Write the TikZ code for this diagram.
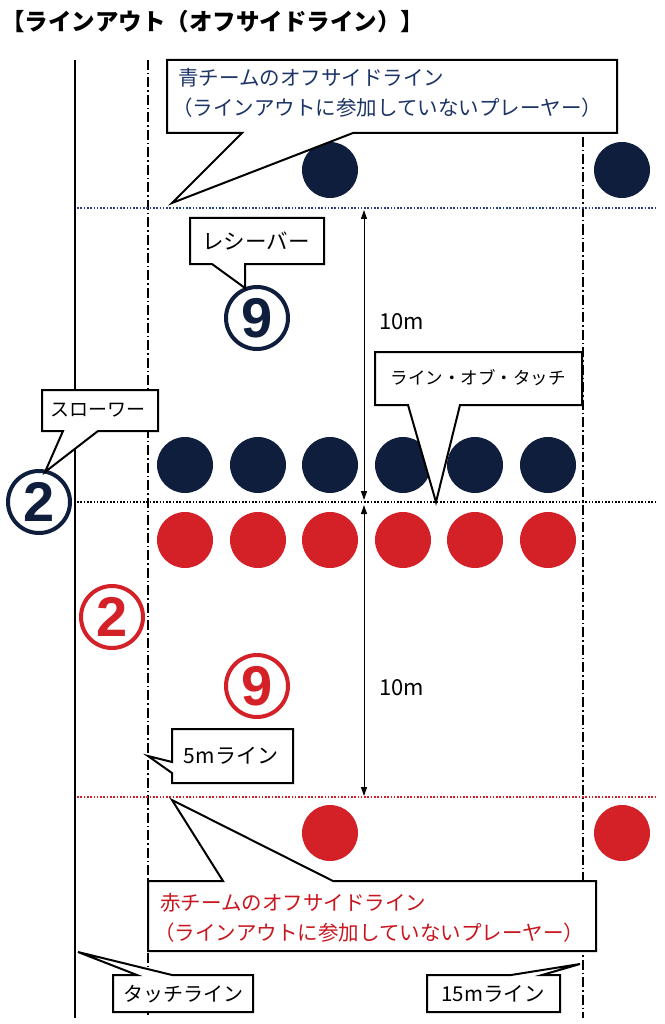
\documentclass[tikz,border=0pt]{standalone}
\usepackage{fontspec}
\setmainfont{Noto Sans CJK JP}
\newfontfamily\numfont{Liberation Sans}
\usetikzlibrary{arrows.meta}
\definecolor{navy}{HTML}{0F1E3C}
\definecolor{bluetxt}{HTML}{1D3466}
\definecolor{bluedotline}{HTML}{23407A}
\definecolor{redc}{HTML}{D42027}
\definecolor{redtxt}{HTML}{C8161E}
\begin{document}
\begin{tikzpicture}[x=1pt,y=-1pt,
  callout/.style={draw=black,line width=2pt,fill=white,line join=miter},
  bluedot/.style={fill=navy,circle,inner sep=0pt,minimum size=56pt},
  reddot/.style={fill=redc,circle,inner sep=0pt,minimum size=56pt},
  dashdot/.style={line width=1.2pt,dash pattern=on 10pt off 3pt on 1.5pt off 3pt},
  offline/.style={line width=1.7pt,dash pattern=on 1.6pt off 1.7pt},
  lbl/.style={font=\fontsize{20.5}{24}\selectfont,inner sep=0pt},
  slbl/.style={font=\fontsize{17.5}{21}\selectfont,inner sep=0pt},
  mlbl/.style={font=\fontsize{20.5}{24}\selectfont,inner sep=0pt},
  cnum/.style={circle,line width=4pt,minimum size=62pt,inner sep=0pt,font=\numfont\bfseries\fontsize{56}{56}\selectfont},
  meas/.style={line width=1pt,{Triangle[length=9pt,width=6pt]}-{Triangle[length=9pt,width=6pt]}}
]
\useasboundingbox (0,0) rectangle (664,1024);

% title
\node[anchor=west,font=\bfseries\fontsize{23.5}{27}\selectfont,inner sep=0pt] (title) at (1,22) {【ラインアウト（オフサイドライン）】};

% field lines
\draw[line width=1.3pt] (75,60) coordinate (tl1) -- (75,1018) coordinate (tl2);
\draw[dashdot] (148,60) coordinate (fm1) -- (148,1018) coordinate (fm2);
\draw[dashdot] (583,137) coordinate (ff1) -- (583,1018) coordinate (ff2);

\draw[offline,bluedotline] (77,208) coordinate (bo1) -- (657,208) coordinate (bo2);
\draw[offline,black] (77,502) coordinate (lt1) -- (657,502) coordinate (lt2);
\draw[offline,redc] (77,797) coordinate (ro1) -- (657,797) coordinate (ro2);

% players
\node[bluedot] (bt1) at (330,170) {};
\node[bluedot] (bt2) at (622,170) {};
\foreach \i/\x in {1/185,2/258,3/330,4/403,5/475,6/548}{
  \node[bluedot] (bl\i) at (\x,465) {};
  \node[reddot] (rl\i) at (\x,540) {};
}
\node[reddot] (rb1) at (330,833) {};
\node[reddot] (rb2) at (622,833) {};

% circled numbers
\node[cnum,draw=navy,text=navy] (b2) at (39,502) {2};
\node[cnum,draw=navy,text=navy] (b9) at (257,318) {9};
\node[cnum,draw=redc,text=redc] (r2) at (112,617) {2};
\node[cnum,draw=redc,text=redc] (r9) at (257,686) {9};

% 10m measures
\coordinate (m1a) at (364,210);
\coordinate (m1b) at (364,500);
\coordinate (m2a) at (364,505);
\coordinate (m2b) at (364,796);
\draw[meas] (m1a) -- (m1b);
\draw[meas] (m2a) -- (m2b);
\node[anchor=west,font=\fontsize{22}{26}\selectfont,inner sep=0pt] (d1) at (379,322) {10m};
\node[anchor=west,font=\fontsize{22}{26}\selectfont,inner sep=0pt] (d2) at (379,688) {10m};

% callout: blue offside line
\draw[callout] (167,60) -- (617,60) -- (617,133) -- (353,133) -- (172,203) -- (242,133) -- (167,133) -- cycle;
\node[lbl,anchor=west,text=bluetxt] (bt) at (178,78) {青チームのオフサイドライン};
\node[lbl,anchor=west,text=bluetxt] (bt2l) at (172,108) {（ラインアウトに参加していないプレーヤー）};

% callout: receiver
\draw[callout] (190,218) -- (324,218) -- (324,264) -- (245,264) -- (245,288) -- (212,264) -- (190,264) -- cycle;
\node[font=\fontsize{21.5}{25}\selectfont,inner sep=0pt] (rcv) at (256,241) {レシーバー};

% callout: line of touch
\draw[callout] (375,352) -- (582,352) -- (582,405) -- (460,405) -- (436,502) -- (408,405) -- (375,405) -- cycle;
\node[slbl] (lot) at (478,378) {ライン・オブ・タッチ};

% callout: thrower
\draw[callout] (42,390) -- (158,390) -- (158,431) -- (98,431) -- (45,472) -- (63,431) -- (42,431) -- cycle;
\node[font=\fontsize{19}{22}\selectfont,inner sep=0pt] (thr) at (98,410) {スローワー};

% callout: 5m line
\draw[callout] (172,729) -- (293,729) -- (293,783) -- (172,783) -- (172,773) -- (148,756) -- (172,762) -- cycle;
\node[font=\fontsize{21}{25}\selectfont,inner sep=0pt] (fivem) at (231,756) {5mライン};

% callout: red offside line
\draw[callout] (148,881) -- (223,881) -- (172,800) -- (333,881) -- (596,881) -- (596,951) -- (148,951) -- cycle;
\node[lbl,anchor=west,text=redtxt] (rt) at (160,903) {赤チームのオフサイドライン};
\node[lbl,anchor=west,text=redtxt] (rt2l) at (154,933) {（ラインアウトに参加していないプレーヤー）};

% callout: touch line
\draw[callout] (113,975) -- (137,975) -- (78,952) -- (172,975) -- (253,975) -- (253,1012) -- (113,1012) -- cycle;
\node[font=\fontsize{20}{24}\selectfont,inner sep=0pt] (tline) at (183,994) {タッチライン};

% callout: 15m line
\draw[callout] (427,975) -- (511,975) -- (580,964) -- (542,975) -- (560,975) -- (560,1012) -- (427,1012) -- cycle;
\node[font=\fontsize{20.5}{24}\selectfont,inner sep=0pt] (ffline) at (493,994) {15mライン};
\end{tikzpicture}
\end{document}
